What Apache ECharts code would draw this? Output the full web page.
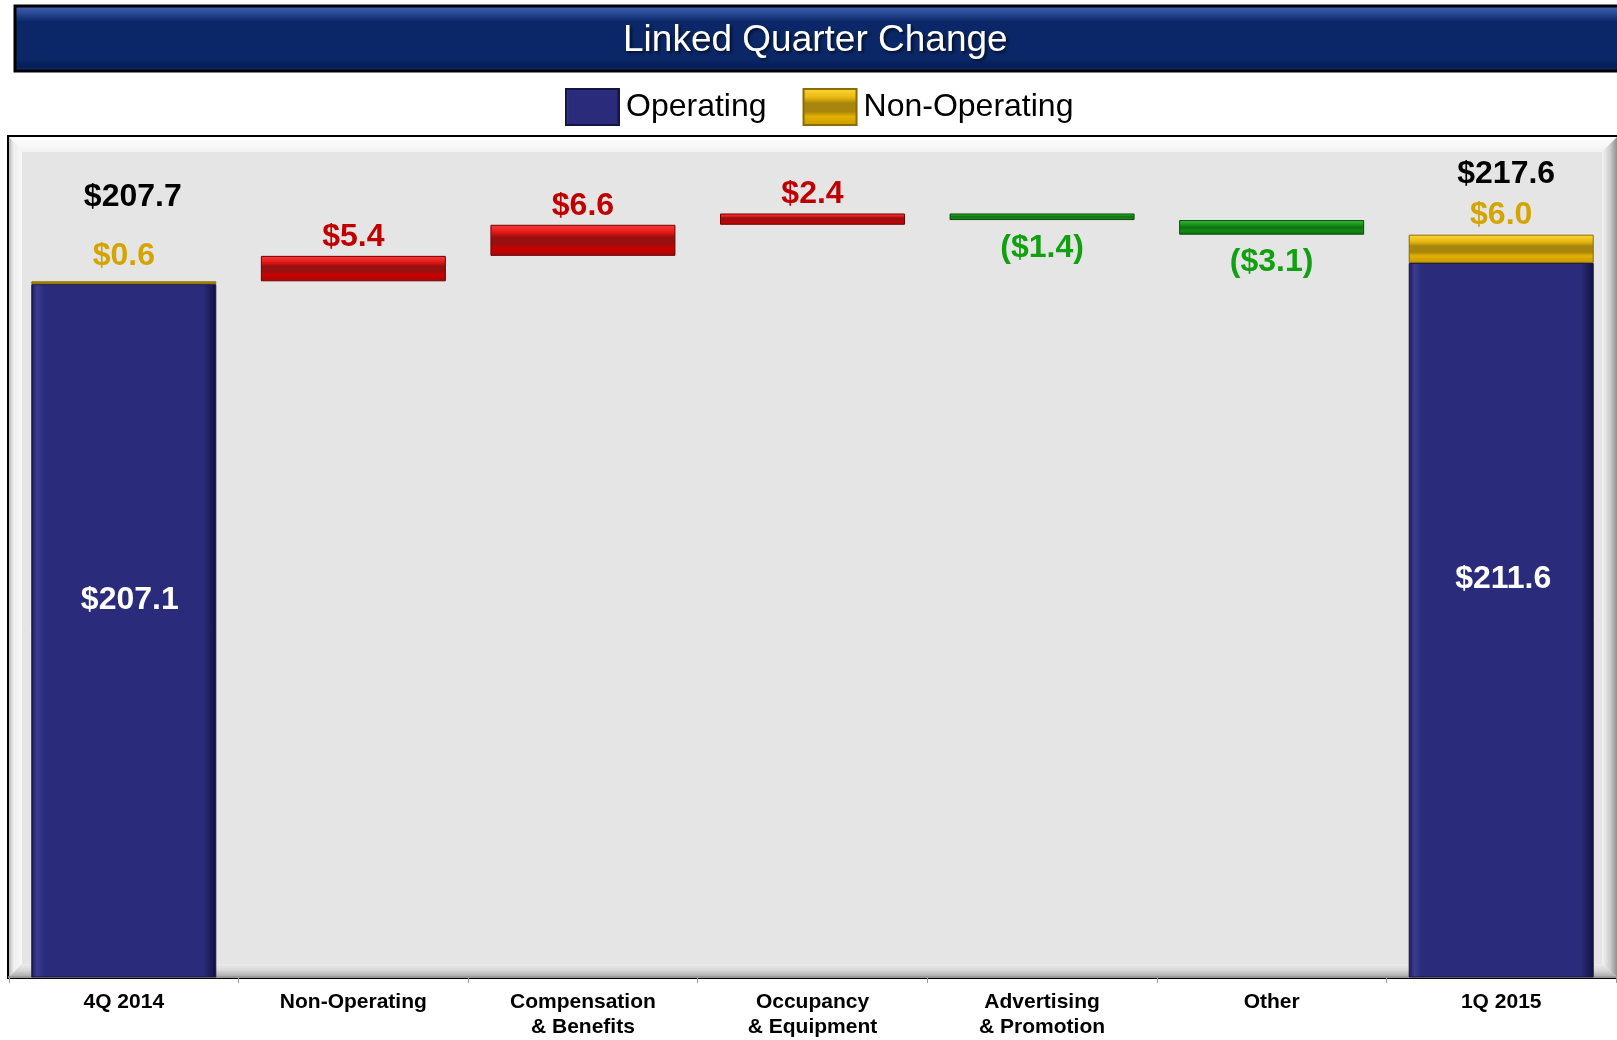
<!DOCTYPE html>
<html>
<head>
<meta charset="utf-8">
<script src="https://cdn.jsdelivr.net/npm/echarts@6/dist/echarts.min.js"></script>
<style>
html,body{margin:0;padding:0;background:#fff;}
#chart{width:1617px;height:1040px;}
</style>
</head>
<body>
<div id="chart"></div>
<script>
// ---- data ----
const categories = ['4Q 2014', 'Non-Operating', 'Compensation\n& Benefits', 'Occupancy\n& Equipment', 'Advertising\n& Promotion', 'Other', '1Q 2015'];
const operating = [207.1, null, null, null, null, null, 211.6];
const nonOperating = [0.6, null, null, null, null, null, 6.0];
const changes = [null, 5.4, 6.6, 2.4, -1.4, -3.1, null];

// ---- derived waterfall pieces ----
const n = categories.length;
const totals = categories.map((c, i) => operating[i] != null ? +(operating[i] + nonOperating[i]).toFixed(1) : '-');
const base = [], inc = [], dec = [];
let running = totals[0];
for (let i = 0; i < n; i++) {
  const ch = changes[i];
  if (ch == null) { base.push('-'); inc.push('-'); dec.push('-'); continue; }
  if (ch >= 0) { base.push(running); inc.push(ch); dec.push('-'); }
  else { base.push(running + ch); inc.push('-'); dec.push(-ch); }
  running += ch;
}
const money = v => '$' + Number(v).toFixed(1);

const FONT = '"Liberation Sans", Arial, sans-serif';
const valueLabel = {fontFamily: FONT, fontWeight: 'bold', fontSize: 32, lineHeight: 32};

// per-item label placement (styles, not data)
const totalLabelStyle = {0: {distance: 68, offset: [9, 0]}, 6: {distance: 44, offset: [5, 0]}};
const goldLabelStyle = {0: {distance: 9, offset: [0, 0]}, 6: {distance: 3, offset: [0, 0]}};
const opLabelStyle = {0: {offset: [6, 0]}, 6: {offset: [2, 0]}};

const grad = (x, y, x2, y2, stops) => new echarts.graphic.LinearGradient(x, y, x2, y2, stops.map((c) => ({offset: c[0], color: c[1]})));

const blueFill = grad(0, 0, 1, 0, [[0, '#1a1a55'], [0.03, '#3c3c92'], [0.07, '#2b2b7b'], [0.93, '#2b2b7b'], [0.97, '#1c1c5a'], [1, '#101040']]);
const goldFill = grad(0, 0, 0, 1, [[0, '#ffd83a'], [0.25, '#e8b810'], [0.4, '#a8860e'], [0.62, '#a8860e'], [0.75, '#e2b000'], [1, '#c89c00']]);
const redFill = grad(0, 0, 0, 1, [[0, '#ff3a3a'], [0.25, '#e01818'], [0.4, '#9a1010'], [0.62, '#9a1010'], [0.75, '#cc0000'], [1, '#a00808']]);
const greenFill = grad(0, 0, 0, 1, [[0, '#3cbc3c'], [0.3, '#1a961a'], [0.5, '#107010'], [0.75, '#138a13'], [1, '#0c6a0c']]);

const chart = echarts.init(document.getElementById('chart'), null, {renderer: 'canvas'});

const option = {
  backgroundColor: '#ffffff',
  animation: false,
  title: {
    text: 'Linked Quarter Change',
    left: 623, top: 22, padding: 0,
    textStyle: {color: '#ffffff', fontFamily: FONT, fontWeight: 'normal', fontSize: 37,
      textShadowColor: 'rgba(0,0,0,0.6)', textShadowBlur: 3, textShadowOffsetX: 2, textShadowOffsetY: 2}
  },
  legend: {
    data: ['Operating', 'Non-Operating'],
    left: 565, top: 88, padding: 0,
    itemWidth: 53, itemHeight: 36, itemGap: 36,
    icon: 'rect',
    textStyle: {fontFamily: FONT, fontSize: 32, color: '#000', padding: [0, 0, 0, 2]},
    selectedMode: false
  },
  graphic: [
    {type: 'rect', z: -10, shape: {x: 15, y: 6, width: 1620, height: 65},
      style: {fill: grad(0, 0, 0, 1, [[0, '#4a6ab4'], [0.12, '#2c4c98'], [0.25, '#0b2767'], [0.8, '#0b2767'], [0.92, '#061d55'], [1, '#20407e']]), stroke: '#000', lineWidth: 3}},
    {type: 'rect', z: -10, shape: {x: 8, y: 136, width: 1630, height: 842},
      style: {fill: '#e5e5e5', stroke: '#000', lineWidth: 2}},
    {type: 'polygon', z: -9, shape: {points: [[9, 137], [1617, 137], [1602, 152], [22, 152]]},
      style: {fill: grad(0, 0, 0, 1, [[0, '#ffffff'], [1, '#f2f2f2']])}},
    {type: 'polygon', z: -9, shape: {points: [[9, 137], [22, 152], [22, 964], [9, 977]]},
      style: {fill: grad(0, 0, 1, 0, [[0, '#b8b8b8'], [0.35, '#eeeeee'], [1, '#f8f8f8']])}},
    {type: 'polygon', z: -9, shape: {points: [[1617, 137], [1602, 152], [1602, 964], [1617, 977]]},
      style: {fill: grad(0, 0, 1, 0, [[0, '#f4f4f4'], [0.5, '#d0d0d0'], [1, '#909090']])}},
    {type: 'polygon', z: -9, shape: {points: [[22, 964], [1602, 964], [1617, 977], [9, 977]]},
      style: {fill: grad(0, 0, 0, 1, [[0, '#ececec'], [0.5, '#d6d6d6'], [1, '#a8a8a8']])}}
  ],
  grid: {left: 9, right: 1, top: 148, bottom: 62, containLabel: false},
  xAxis: {
    type: 'category', data: categories,
    axisLine: {show: true, lineStyle: {color: '#9a9a9a', width: 2}},
    axisTick: {show: true, length: 6, lineStyle: {color: '#9a9a9a', width: 1}},
    axisLabel: {color: '#000', fontFamily: FONT, fontWeight: 'bold', fontSize: 21, lineHeight: 25, margin: 13, interval: 0}
  },
  yAxis: {type: 'value', min: 60, max: 236, show: false, splitLine: {show: false}},
  series: [
    {name: 'base', type: 'bar', stack: 'w', barWidth: 185, data: base, itemStyle: {color: 'transparent'}, silent: true, z: 1},
    {name: 'Operating', type: 'bar', stack: 'w', barWidth: 185,
      data: operating.map((v, i) => v == null ? '-' : {value: v, label: opLabelStyle[i]}),
      itemStyle: {color: blueFill, borderColor: '#151545', borderWidth: 1},
      label: {show: true, position: 'insideTop', distance: 300, color: '#fff', formatter: p => money(p.value), ...valueLabel}},
    {name: 'Non-Operating', type: 'bar', stack: 'w', barWidth: 185,
      data: nonOperating.map((v, i) => v == null ? '-' : {value: v, label: goldLabelStyle[i]}),
      itemStyle: {color: goldFill, borderColor: '#8a6c00', borderWidth: 1},
      label: {show: true, position: 'top', color: '#d4a400', formatter: p => money(p.value), ...valueLabel}},
    {name: 'Increase', type: 'bar', stack: 'w', barWidth: 185, data: inc,
      itemStyle: {color: redFill, borderColor: '#700000', borderWidth: 1},
      label: {show: true, position: 'top', distance: 3, color: '#c00000', formatter: p => money(changes[p.dataIndex]), ...valueLabel}},
    {name: 'Decrease', type: 'bar', stack: 'w', barWidth: 185, data: dec,
      itemStyle: {color: greenFill, borderColor: '#0a4a0a', borderWidth: 1},
      label: {show: true, position: 'bottom', distance: 12, color: '#10a010', formatter: p => '(' + money(-changes[p.dataIndex]) + ')', ...valueLabel}},
    {name: 'Total', type: 'scatter', symbolSize: 0, z: 5,
      itemStyle: {opacity: 1},
      data: totals.map((v, i) => v === '-' ? '-' : {value: v, label: totalLabelStyle[i]}),
      label: {show: true, position: 'top', color: '#000000', formatter: p => money(p.value), ...valueLabel}}
  ]
};
chart.setOption(option);
</script>
</body>
</html>
